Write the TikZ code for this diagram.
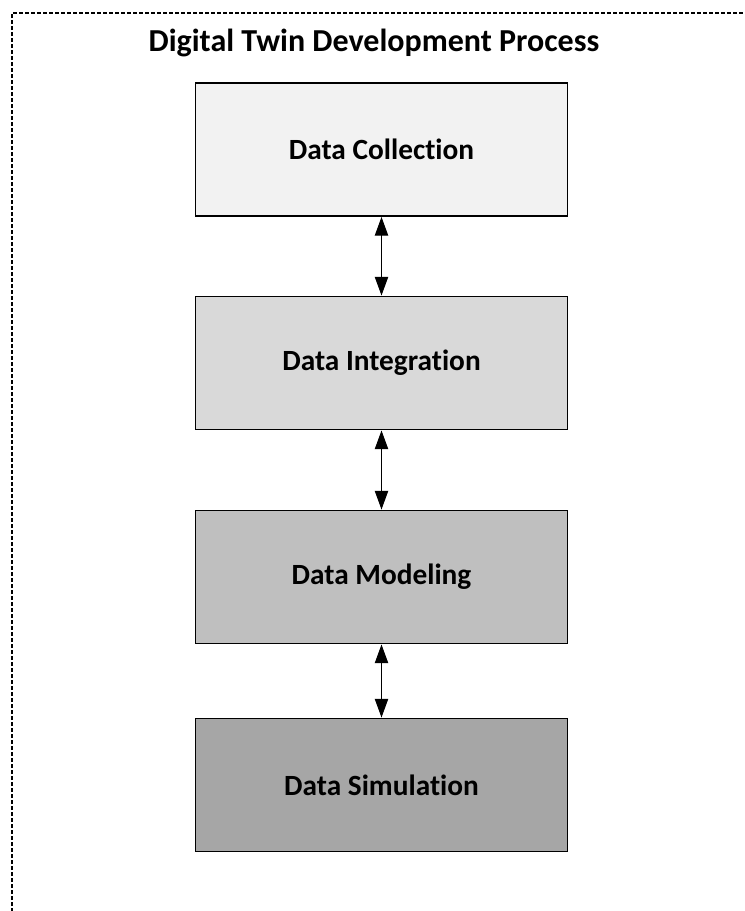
\documentclass[tikz,border=0pt]{standalone}
\usepackage{fontspec}
\setmainfont{Carlito}[Ligatures=NoCommon]
\usetikzlibrary{arrows.meta}

\begin{document}
\begin{tikzpicture}[x=0.75pt,y=-0.75pt,
  >={Triangle[length=14pt,width=10pt]},
  stage/.style={draw,line width=1.2pt,minimum width=279pt,minimum height=100pt,font=\bfseries\fontsize{22}{26}\selectfont}]
  \useasboundingbox (0,0) rectangle (745,911);
  \draw[line width=1.1pt,dash pattern=on 3pt off 1.5pt] (12,930) -- (12,13) -- (760,13);
  \node[anchor=base,font=\bfseries\fontsize{24}{28}\selectfont] (title) at (374,51) {Digital Twin Development Process};
  \node[stage,fill=black!5] (collect) at (381.5,149.5) {Data Collection};
  \node[stage,fill=black!15] (integrate) at (381.5,363) {Data Integration};
  \node[stage,fill=black!25] (model) at (381.5,577) {Data Modeling};
  \node[stage,fill=black!35] (simulate) at (381.5,785) {Data Simulation};
  \draw[<->,line width=0.8pt] (collect) -- (integrate);
  \draw[<->,line width=0.8pt] (integrate) -- (model);
  \draw[<->,line width=0.8pt] (model) -- (simulate);
\end{tikzpicture}
\end{document}
